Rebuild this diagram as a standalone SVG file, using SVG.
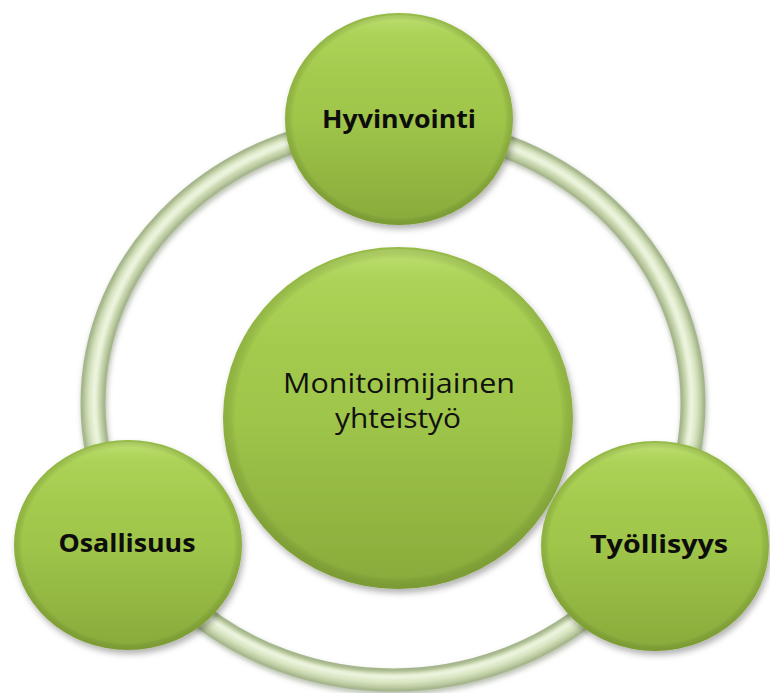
<svg xmlns="http://www.w3.org/2000/svg" width="770" height="693" viewBox="0 0 770 693">
  <defs>
    <linearGradient id="ballFill" x1="0" y1="0" x2="0" y2="1">
      <stop offset="0" stop-color="#aad253"/>
      <stop offset="0.5" stop-color="#9fc54a"/>
      <stop offset="1" stop-color="#88aa3b"/>
    </linearGradient>
    <radialGradient id="ballRim" cx="0.5" cy="0.5" r="0.5">
      <stop offset="0.93" stop-color="#000" stop-opacity="0"/>
      <stop offset="1" stop-color="#4d6618" stop-opacity="0.22"/>
    </radialGradient>
    <linearGradient id="ballHi" x1="0" y1="0" x2="0" y2="1">
      <stop offset="0" stop-color="#c4e37a" stop-opacity="0.8"/>
      <stop offset="0.1" stop-color="#b5d964" stop-opacity="0.3"/>
      <stop offset="0.3" stop-color="#b5d964" stop-opacity="0"/>
    </linearGradient>
    <filter id="shadow" x="-20%" y="-20%" width="140%" height="140%">
      <feDropShadow dx="2" dy="4" stdDeviation="3" flood-color="#000" flood-opacity="0.3"/>
    </filter>
    <filter id="soft" x="-10%" y="-10%" width="120%" height="120%">
      <feGaussianBlur stdDeviation="1.5"/>
    </filter>
    <filter id="ringShadow" x="-10%" y="-10%" width="120%" height="120%">
      <feGaussianBlur stdDeviation="2.5"/>
    </filter>
  </defs>
  <style>
    .ball { fill: url(#ballFill); filter: url(#shadow); }
    .rim { fill: url(#ballRim); }
    .hi { fill: url(#ballHi); }
    .lbl { font-family: "Open Sans", "Liberation Sans", sans-serif; font-weight: bold; font-size: 25px; fill: #0d0d0d; text-anchor: middle; }
    .ctr { font-family: "Open Sans", "Liberation Sans", sans-serif; font-weight: normal; font-size: 27px; fill: #111; text-anchor: middle; }
  </style>
  <rect width="770" height="693" fill="#ffffff"/>

  <g id="connectors">
    <g transform="translate(393,403) scale(1.083,1)">
      <circle cx="1" cy="3" r="277" fill="none" stroke="#6b7a5a" stroke-opacity="0.45" stroke-width="24" filter="url(#ringShadow)"/>
      <circle cx="0" cy="0" r="277" fill="none" stroke="#a4b48a" stroke-width="23"/>
      <circle cx="0" cy="0" r="277" fill="none" stroke="#c3d2a9" stroke-width="17" filter="url(#soft)"/>
      <circle cx="0" cy="-1" r="277" fill="none" stroke="#dce8c6" stroke-width="10" filter="url(#soft)"/>
      <circle cx="0" cy="-2" r="276" fill="none" stroke="#eef5e2" stroke-width="4" filter="url(#soft)"/>
    </g>
  </g>

  <g id="node-center">
    <ellipse class="ball" cx="398" cy="418" rx="175" ry="171"/>
    <ellipse class="hi" cx="398" cy="418" rx="173" ry="169"/>
    <ellipse class="rim" cx="398" cy="418" rx="175" ry="171"/>
    <text class="ctr" x="399" y="393" textLength="232" lengthAdjust="spacingAndGlyphs">Monitoimijainen</text>
    <text class="ctr" x="398" y="428" textLength="126" lengthAdjust="spacingAndGlyphs">yhteistyö</text>
  </g>

  <g id="node-hyvinvointi">
    <ellipse class="ball" cx="399" cy="119" rx="114" ry="106"/>
    <ellipse class="hi" cx="399" cy="119" rx="112" ry="104"/>
    <ellipse class="rim" cx="399" cy="119" rx="114" ry="106"/>
    <text class="lbl" x="399" y="128" textLength="154" lengthAdjust="spacingAndGlyphs">Hyvinvointi</text>
  </g>

  <g id="node-osallisuus">
    <ellipse class="ball" cx="128" cy="545" rx="114" ry="105"/>
    <ellipse class="hi" cx="128" cy="545" rx="112" ry="103"/>
    <ellipse class="rim" cx="128" cy="545" rx="114" ry="105"/>
    <text class="lbl" x="127" y="552" textLength="137" lengthAdjust="spacingAndGlyphs">Osallisuus</text>
  </g>

  <g id="node-tyollisyys">
    <ellipse class="ball" cx="655" cy="546" rx="114" ry="105"/>
    <ellipse class="hi" cx="655" cy="546" rx="112" ry="103"/>
    <ellipse class="rim" cx="655" cy="546" rx="114" ry="105"/>
    <text class="lbl" x="659" y="553" textLength="138" lengthAdjust="spacingAndGlyphs">Työllisyys</text>
  </g>
</svg>
